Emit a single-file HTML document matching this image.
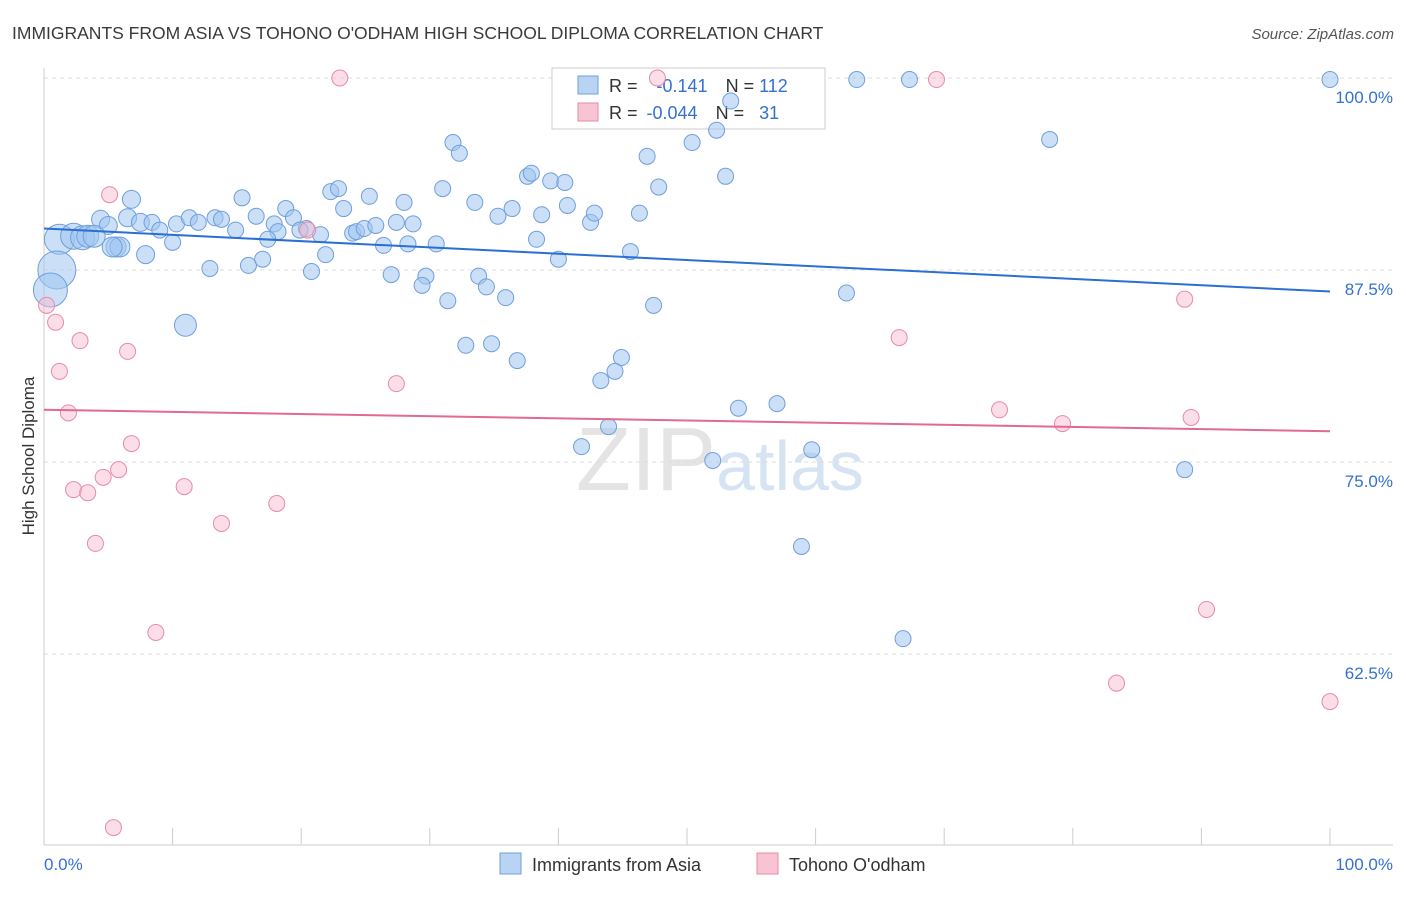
<!DOCTYPE html>
<html><head><meta charset="utf-8"><style>
body{margin:0;background:#fff;font-family:"Liberation Sans",sans-serif;}
svg text{font-family:"Liberation Sans",sans-serif;}
</style></head><body>
<svg id="chart" width="1406" height="892" viewBox="0 0 1406 892" xmlns="http://www.w3.org/2000/svg">
<text x="12" y="39" font-size="17.5" fill="#3a3a3a">IMMIGRANTS FROM ASIA VS TOHONO O'ODHAM HIGH SCHOOL DIPLOMA CORRELATION CHART</text>
<text x="1394" y="39" font-size="15" fill="#555" text-anchor="end" font-style="italic">Source: ZipAtlas.com</text>
<text x="720" y="490" font-size="90" fill="#e4e4e4" text-anchor="middle" font-family="Liberation Serif">ZIP<tspan fill="#d6e3f3" font-family="Liberation Sans" font-size="70">atlas</tspan></text>
<g id="grid"></g>
<g id="axes"></g>
<g>
<rect x="552" y="68" width="273" height="61" fill="#fff" stroke="#ccc"/>
<rect x="578" y="76" width="20" height="18" fill="#b9d3f3" stroke="#6f9fdc"/>
<text x="609" y="92" font-size="18" fill="#333">R = <tspan fill="#3471d1" dx="14">-0.141</tspan><tspan dx="18" fill="#333">N = </tspan><tspan fill="#3471d1">112</tspan></text>
<rect x="578" y="103" width="20" height="18" fill="#f8c3d2" stroke="#e88aa8"/>
<text x="609" y="119" font-size="18" fill="#333">R = <tspan fill="#3471d1" dx="4">-0.044</tspan><tspan dx="18" fill="#333">N = </tspan><tspan fill="#3471d1" dx="10">31</tspan></text>
</g>
<g id="marks"></g>
<text transform="translate(34,456) rotate(-90)" font-size="17" fill="#333" text-anchor="middle">High School Diploma</text>
<g>
<rect x="500" y="853" width="21" height="21" fill="#b9d3f3" stroke="#6f9fdc"/>
<text x="532" y="871" font-size="18" fill="#333">Immigrants from Asia</text>
<rect x="757" y="853" width="21" height="21" fill="#f8c3d2" stroke="#e88aa8"/>
<text x="789" y="871" font-size="18" fill="#333">Tohono O'odham</text>
</g>
</svg>
<script>
const yTicks=[100,87.5,75,62.5];
const yTickLabels=["100.0%","87.5%","75.0%","62.5%"];
const xTickCount=[0,10,20,30,40,50,60,70,80,90,100];
const blueX=[100,63.2,67.3,78.2,31.8,32.3,50.4,52.3,46.9,53.0,47.8,37.6,37.9,39.4,40.5,31.0,33.5,35.3,36.4,38.7,40.7,42.5,42.8,46.3,22.3,22.9,25.3,28.0,15.4,18.8,23.3,6.8,6.5,4.4,5.0,7.5,8.4,9.0,10.3,11.3,12.0,13.3,13.8,14.9,16.5,17.9,19.4,20.4,21.5,18.2,17.4,19.9,24.0,24.3,24.9,25.8,27.4,28.7,26.4,28.3,30.5,38.3,45.6,40.0,10.0,7.9,12.9,15.9,17.0,20.8,21.9,27.0,29.7,29.4,31.4,33.8,34.4,35.9,47.4,62.4,11.0,32.8,34.8,36.8,44.9,44.4,43.3,54.0,57.0,43.9,41.8,52.0,59.7,88.7,58.9,66.8,1.2,1.0,0.5,2.3,3.0,3.4,3.9,5.6,5.9,5.3,53.4];
const blueY=[99.9,99.9,99.9,96.0,95.8,95.1,95.8,96.6,94.9,93.6,92.9,93.6,93.8,93.3,93.2,92.8,91.9,91.0,91.5,91.1,91.7,90.6,91.2,91.2,92.6,92.8,92.3,91.9,92.2,91.5,91.5,92.1,90.9,90.8,90.4,90.6,90.6,90.1,90.5,90.9,90.6,90.9,90.8,90.1,91.0,90.5,90.9,90.2,89.8,90.0,89.5,90.1,89.9,90.0,90.2,90.4,90.6,90.5,89.1,89.2,89.2,89.5,88.7,88.2,89.3,88.5,87.6,87.8,88.2,87.4,88.5,87.2,87.1,86.5,85.5,87.1,86.4,85.7,85.2,86.0,83.9,82.6,82.7,81.6,81.8,80.9,80.3,78.5,78.8,77.3,76.0,75.1,75.8,74.5,69.5,63.5,89.5,87.5,86.2,89.7,89.6,89.7,89.7,89.0,89.0,89.0,98.5];
const blueSize=[8,8,8,8,8,8,8,8,8,8,8,8,8,8,8,8,8,8,8,8,8,8,8,8,8,8,8,8,8,8,8,9,9,9,9,9,8,8,8,8,8,8,8,8,8,8,8,8,8,8,8,8,8,8,8,8,8,8,8,8,8,8,8,8,8,9,8,8,8,8,8,8,8,8,8,8,8,8,8,8,11,8,8,8,8,8,8,8,8,8,8,8,8,8,8,8,15,19,17,13,12,11,11,10,10,10,8];
const pinkX=[23.0,47.7,69.4,5.1,0.9,2.8,6.5,1.2,1.9,27.4,6.8,5.8,4.6,2.3,3.4,10.9,18.1,13.8,4.0,8.7,88.7,66.5,74.3,79.2,89.2,90.4,83.4,100,5.4,20.5,0.2];
const pinkY=[100,100,99.9,92.4,84.1,82.9,82.2,80.9,78.2,80.1,76.2,74.5,74.0,73.2,73.0,73.4,72.3,71.0,69.7,63.9,85.6,83.1,78.4,77.5,77.9,65.4,60.6,59.4,51.2,90.1,85.2];
const blueTrend=[90.2,86.1];
const pinkTrend=[78.4,77.0];
const NS="http://www.w3.org/2000/svg";
const X=v=>44+v*12.86;
const Y=v=>78+(100-v)*15.36;
function mk(tag,attrs,parent){const e=document.createElementNS(NS,tag);for(const k in attrs)e.setAttribute(k,attrs[k]);parent.appendChild(e);return e;}
const grid=document.getElementById('grid'),axes=document.getElementById('axes'),marks=document.getElementById('marks');
yTicks.forEach((t,i)=>{
 const l=mk('line',{x1:44,x2:1393,y1:Y(t),y2:Y(t),stroke:'#ddd','stroke-dasharray':'4,4'},grid);
 
 
 const tx=mk('text',{x:1393,y:Y(t)+25,'font-size':17,fill:'#3471d1','text-anchor':'end'},grid);
 tx.textContent=yTickLabels[i];
 
 
});
const ax=mk('line',{x1:44,x2:1393,y1:845,y2:845,stroke:'#ccc'},axes);


const ay=mk('line',{x1:44,x2:44,y1:68,y2:845,stroke:'#ccc'},axes);


xTickCount.forEach(t=>{
 const l=mk('line',{x1:X(t),x2:X(t),y1:828,y2:845,stroke:'#ccc'},axes);
 
 
});
const xl=mk('text',{x:44,y:870,'font-size':17,fill:'#3471d1'},axes);xl.textContent='0.0%';


const xr=mk('text',{x:1393,y:870,'font-size':17,fill:'#3471d1','text-anchor':'end'},axes);xr.textContent='100.0%';


blueX.forEach((v,i)=>{
 const c=mk('circle',{cx:X(v),cy:Y(blueY[i]),r:blueSize[i],fill:'rgba(160,196,240,0.55)',stroke:'#6f9fdc','stroke-width':1},marks);
 
 
});
pinkX.forEach((v,i)=>{
 const c=mk('circle',{cx:X(v),cy:Y(pinkY[i]),r:8,fill:'rgba(248,190,208,0.5)',stroke:'#e88aa8','stroke-width':1},marks);
 
 
});
const bt=mk('line',{x1:X(0),x2:X(100),y1:Y(blueTrend[0]),y2:Y(blueTrend[1]),stroke:'#2a6fd4','stroke-width':2},marks);


const pt=mk('line',{x1:X(0),x2:X(100),y1:Y(pinkTrend[0]),y2:Y(pinkTrend[1]),stroke:'#e06a93','stroke-width':2},marks);


</script>
</body></html>
